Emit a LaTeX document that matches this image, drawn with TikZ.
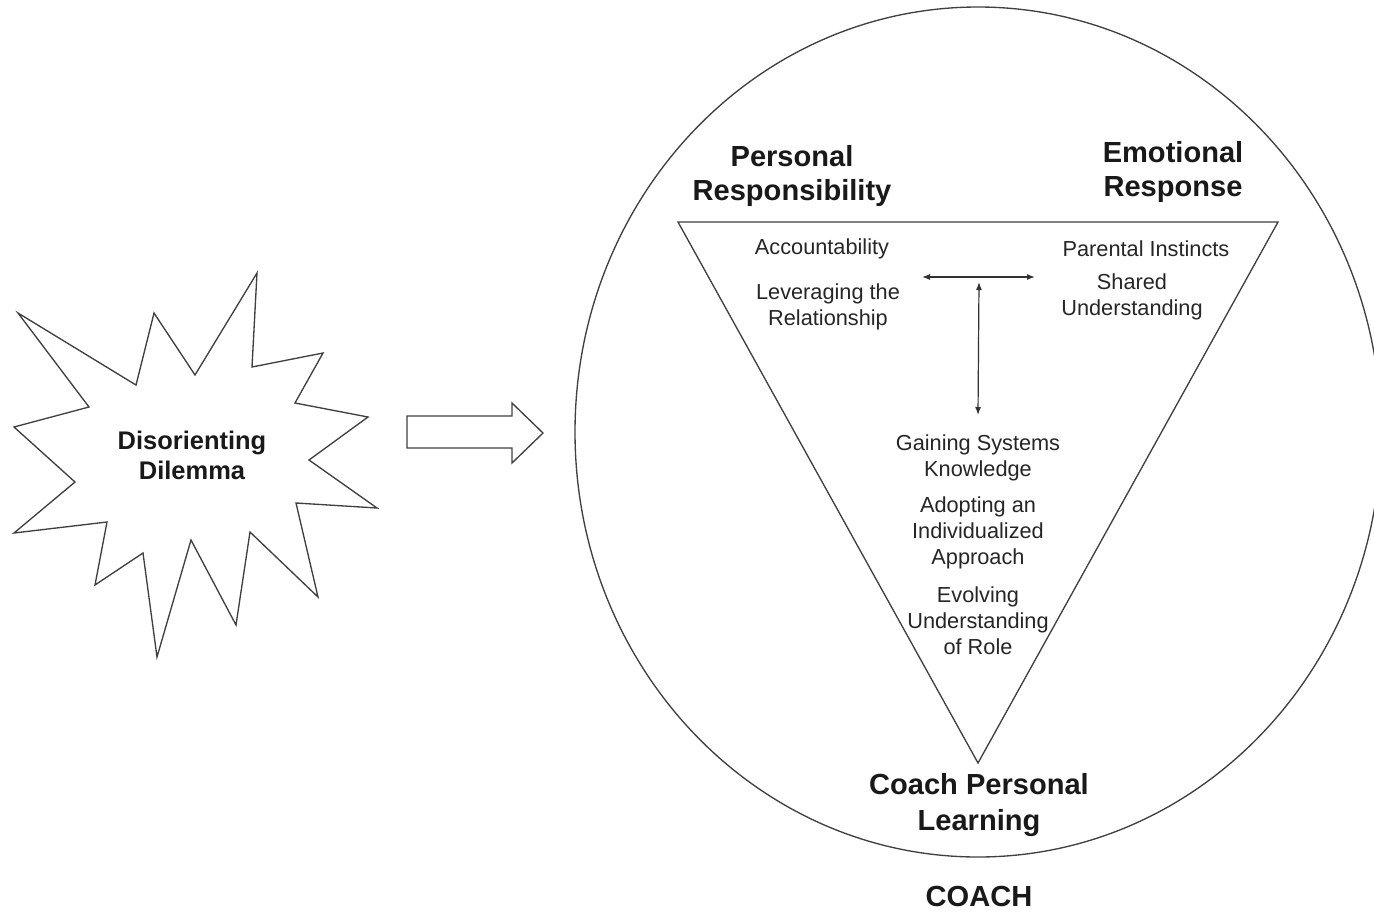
\documentclass[tikz,border=0pt]{standalone}
\usepackage{fontspec}
\setmainfont{Liberation Sans}
\usetikzlibrary{arrows.meta}
\begin{document}
\begin{tikzpicture}[x=0.75pt,y=-0.75pt,
  shapeline/.style={draw=black!75, line width=1pt, line join=miter},
  item/.style={inner sep=0pt, align=center, text=black!85, font=\fontsize{16.3}{19.5}\selectfont},
  heading/.style={inner sep=0pt, align=center, text=black!90, font=\bfseries\fontsize{21.8}{25.5}\selectfont},
  link/.style={draw=black!80, line width=0.9pt, {Latex[length=6pt,width=4.5pt]}-{Latex[length=6pt,width=4.5pt]}}]
\useasboundingbox (0,0) rectangle (1374,911);
\fill[white] (0,0) rectangle (1374,911);

% starburst
\draw[shapeline] (18,313) -- (136,385) -- (154,313) -- (195,375) -- (257,273) -- (252,367)
  -- (323,353) -- (295,403) -- (368,417) -- (309,460) -- (377,508) -- (296,503)
  -- (318,597) -- (250,532) -- (236,625) -- (191,540) -- (157,657) -- (143,553)
  -- (95,585) -- (107,522) -- (14,533) -- (75,482) -- (14,427) -- (89,407) -- cycle;
\node[inner sep=0pt, align=center, text=black!90, font=\bfseries\fontsize{19.1}{22.5}\selectfont] (dd) at (192,455) {Disorienting\\Dilemma};

% block arrow
\draw[shapeline] (407,416) -- (512,416) -- (512,403) -- (543,433) -- (512,463) -- (512,448) -- (407,448) -- cycle;

% circle and triangle
\draw[shapeline] (978,432) ellipse [x radius=403, y radius=425];
\draw[shapeline] (678,222) -- (1278,222) -- (978,763) -- cycle;

% headings
\node[heading] (pr) at (792,176) {Personal\\Responsibility};
\node[heading] (er) at (1173,172) {Emotional\\Response};
\node[heading, font=\bfseries\fontsize{21.8}{27}\selectfont] (cpl) at (979,805) {Coach Personal\\Learning};
\node[heading] (coach) at (979,896) {COACH};

% items
\node[item] (acc) at (822,249) {Accountability};
\node[item] (lev) at (828,307) {Leveraging the\\Relationship};
\node[item] (par) at (1146,249) {Parental Instincts};
\node[item] (sha) at (1132,297) {Shared\\Understanding};
\node[item] (gai) at (978,458) {Gaining Systems\\Knowledge};
\node[item] (ado) at (978,533) {Adopting an\\Individualized\\Approach};
\node[item] (evo) at (978,621) {Evolving\\Understanding\\of Role};

% T arrows
\coordinate (hl) at (922,277);
\coordinate (hr) at (1035,277);
\coordinate (vt) at (979,282);
\coordinate (vb) at (978,415);
\draw[link] (hl) -- (hr);
\draw[link] (vt) -- (vb);
\end{tikzpicture}
\end{document}
